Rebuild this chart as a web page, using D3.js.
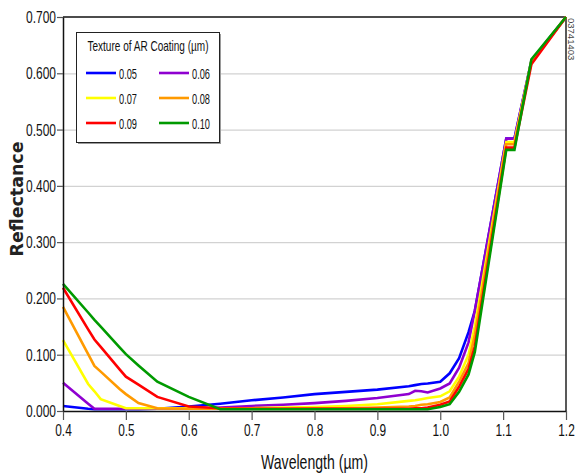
<!DOCTYPE html>
<html>
<head>
<meta charset="utf-8">
<script src="https://cdn.jsdelivr.net/npm/d3@7"></script>
<style>
  body { margin: 0; background: #fff; }
  .axis text { font-family: "Liberation Sans", Arial, sans-serif; font-size: 17px; fill: #111; }
  .axis .domain { stroke: #111; stroke-width: 1.5; }
  .axis .tick line { stroke: #555; stroke-width: 1.2; }
  .grid line { stroke: #d2d2d2; stroke-width: 1.2; }
  .grid .domain { display: none; }
  .series { fill: none; stroke-width: 2.6; stroke-linejoin: miter; }
  .legend text { font-family: "Liberation Sans", Arial, sans-serif; font-size: 15px; fill: #111; }
</style>
</head>
<body>
<div class="chart"></div>
<script>
// wavelength grid (µm) shared by all series
const wavelength = [0.40, 0.44, 0.45, 0.46, 0.49, 0.50, 0.52, 0.55, 0.60, 0.65, 0.70, 0.75, 0.80, 0.85,
                    0.90, 0.95, 0.96, 0.97, 0.98, 1.00, 1.015, 1.03, 1.045, 1.055, 1.105, 1.118, 1.145, 1.20];

// reflectance per AR coating texture
const r005 = [0.009, 0.004, 0.003, 0.003, 0.003, 0.003, 0.003, 0.004, 0.008, 0.013, 0.019, 0.024, 0.030, 0.034,
              0.038, 0.044, 0.046, 0.048, 0.049, 0.052, 0.067, 0.094, 0.140, 0.178, 0.484, 0.484, 0.622, 0.700];
const r006 = [0.050, 0.013, 0.004, 0.004, 0.004, 0.004, 0.004, 0.004, 0.004, 0.006, 0.009, 0.011, 0.014, 0.018,
              0.023, 0.030, 0.036, 0.035, 0.033, 0.040, 0.049, 0.077, 0.122, 0.178, 0.484, 0.484, 0.622, 0.700];
const r007 = [0.126, 0.048, 0.035, 0.021, 0.009, 0.005, 0.005, 0.005, 0.005, 0.005, 0.005, 0.006, 0.007, 0.009,
              0.012, 0.018, 0.019, 0.021, 0.023, 0.026, 0.035, 0.061, 0.100, 0.150, 0.478, 0.478, 0.622, 0.700];
const r008 = [0.185, 0.101, 0.080, 0.070, 0.039, 0.030, 0.014, 0.005, 0.004, 0.004, 0.004, 0.004, 0.005, 0.005,
              0.006, 0.008, 0.009, 0.011, 0.012, 0.016, 0.024, 0.052, 0.085, 0.135, 0.474, 0.474, 0.620, 0.700];
const r009 = [0.219, 0.145, 0.127, 0.114, 0.074, 0.061, 0.047, 0.025, 0.008, 0.005, 0.004, 0.004, 0.004, 0.004,
              0.004, 0.004, 0.005, 0.005, 0.006, 0.011, 0.017, 0.043, 0.075, 0.115, 0.468, 0.468, 0.616, 0.700];
const r010 = [0.226, 0.175, 0.162, 0.150, 0.113, 0.101, 0.081, 0.052, 0.025, 0.003, 0.003, 0.003, 0.003, 0.003,
              0.003, 0.003, 0.003, 0.003, 0.003, 0.007, 0.012, 0.034, 0.065, 0.105, 0.464, 0.464, 0.625, 0.700];

const coatings = ["0.05", "0.06", "0.07", "0.08", "0.09", "0.10"];
const seriesValues = [r005, r006, r007, r008, r009, r010];
const colors = ["#0000ff", "#8f00d0", "#ffff00", "#ff9a00", "#ff0000", "#009a00"];

const xTicks = [0.4, 0.5, 0.6, 0.7, 0.8, 0.9, 1.0, 1.1, 1.2];
const yTicks = [0, 0.1, 0.2, 0.3, 0.4, 0.5, 0.6, 0.7];

//create svg with margin convention
const margin = ({top: 17, right: 10, bottom: 62, left: 63});
const w = 576 - margin.left - margin.right;
const h = 473 - margin.top - margin.bottom;

var root = d3.select(".chart")
    .append("svg")
    .attr("width", 576)
    .attr("height", 473);

var svg = root.append("g")
    .attr("transform", "translate(" + margin.left + "," + margin.top + ")");

var xScale = d3.scaleLinear().domain([0.4, 1.2]).range([0, w]);
var yScale = d3.scaleLinear().domain([0, 0.7]).range([h, 0]);

// horizontal gridlines
svg.append("g")
    .attr("class", "grid")
    .call(d3.axisLeft(yScale).tickValues(yTicks.slice(1, -1)).tickSize(-w).tickFormat(""));

// frame: top and right edges
svg.append("line")
    .attr("x1", 0).attr("x2", w)
    .attr("y1", yScale(0.7)).attr("y2", yScale(0.7))
    .attr("stroke", "#111").attr("stroke-width", 1.5);
svg.append("line")
    .attr("x1", w).attr("x2", w)
    .attr("y1", 0).attr("y2", h)
    .attr("stroke", "#222").attr("stroke-width", 1.5);

// lines
var line = d3.line()
    .x((d, i) => xScale(wavelength[i]))
    .y(d => yScale(d));

svg.selectAll(".series")
    .data(seriesValues)
    .join("path")
    .attr("class", "series")
    .attr("stroke", (d, i) => colors[i])
    .attr("d", line);

//create axes
var xAxis = d3.axisBottom(xScale)
    .tickValues(xTicks)
    .tickFormat(d3.format(".1f"))
    .tickSize(9)
    .tickSizeOuter(0)
    .tickPadding(4);

var yAxis = d3.axisLeft(yScale)
    .tickValues(yTicks)
    .tickFormat(d3.format(".3f"))
    .tickSize(6)
    .tickSizeOuter(0)
    .tickPadding(1);

svg.append("g")
    .attr("class", "axis x-axis")
    .attr("transform", `translate(0, ${h})`)
    .call(xAxis)
    .selectAll("text")
    .attr("textLength", 16.5)
    .attr("lengthAdjust", "spacingAndGlyphs");

svg.append("g")
    .attr("class", "axis y-axis")
    .call(yAxis)
    .selectAll("text")
    .attr("textLength", 30)
    .attr("lengthAdjust", "spacingAndGlyphs");

// axis titles
root.append("text")
    .attr("x", margin.left + w / 2)
    .attr("y", 469)
    .attr("text-anchor", "middle")
    .attr("textLength", 107)
    .attr("lengthAdjust", "spacingAndGlyphs")
    .style("font-family", "'Liberation Sans', Arial, sans-serif")
    .style("font-size", "21px")
    .attr("fill", "#111")
    .text("Wavelength (µm)");

root.append("text")
    .attr("transform", "translate(23,199) rotate(-90)")
    .attr("text-anchor", "middle")
    .attr("textLength", 115)
    .attr("lengthAdjust", "spacingAndGlyphs")
    .style("font-family", "'DejaVu Sans', sans-serif")
    .style("font-size", "17px")
    .style("font-weight", "bold")
    .attr("fill", "#222")
    .text("Reflectance");

// figure code on the right edge
root.append("text")
    .attr("transform", "translate(568,18) rotate(90)")
    .style("font-family", "'Liberation Sans', sans-serif")
    .style("font-size", "9.5px")
    .attr("fill", "#444")
    .text("03741403");

// legend
var legend = root.append("g").attr("class", "legend");
legend.append("rect")
    .attr("x", 78).attr("y", 34).attr("width", 143).attr("height", 110)
    .attr("fill", "#9a9a9a");
legend.append("rect")
    .attr("x", 76.5).attr("y", 32.5).attr("width", 143).attr("height", 110)
    .attr("fill", "#fff").attr("stroke", "#222").attr("stroke-width", 1);
legend.append("text")
    .attr("x", 148).attr("y", 51)
    .attr("text-anchor", "middle")
    .attr("textLength", 121)
    .attr("lengthAdjust", "spacingAndGlyphs")
    .text("Texture of AR Coating (µm)");

var items = legend.selectAll(".item")
    .data(coatings)
    .join("g")
    .attr("class", "item")
    .attr("transform", (d, i) => `translate(${i % 2 ? 159 : 86}, ${73 + Math.floor(i / 2) * 25})`);
items.append("line")
    .attr("x1", 0).attr("x2", 30)
    .attr("stroke", (d, i) => colors[i])
    .attr("stroke-width", 2.6);
items.append("text")
    .attr("x", 33).attr("y", 5.5)
    .attr("textLength", 18)
    .attr("lengthAdjust", "spacingAndGlyphs")
    .text(d => d);
</script>
</body>
</html>
